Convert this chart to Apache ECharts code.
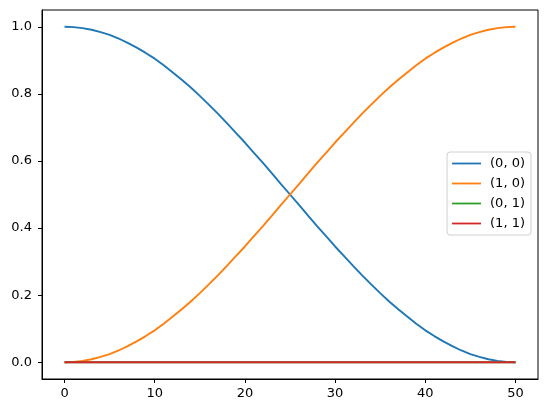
<!DOCTYPE html>
<html>
<head>
<meta charset="utf-8">
<script src="https://cdn.jsdelivr.net/npm/echarts@6/dist/echarts.min.js"></script>
<style>html,body{margin:0;padding:0;background:#fff}#c{width:547px;height:413px}</style>
</head>
<body>
<div id="c"></div>
<script>
const xValues = [0,1,2,3,4,5,6,7,8,9,10,11,12,13,14,15,16,17,18,19,20,21,22,23,24,25,26,27,28,29,30,31,32,33,34,35,36,37,38,39,40,41,42,43,44,45,46,47,48,49,50];
const s00 = [1.000,0.999,0.996,0.991,0.984,0.976,0.965,0.952,0.938,0.922,0.905,0.885,0.864,0.842,0.819,0.794,0.768,0.741,0.713,0.684,0.655,0.624,0.594,0.563,0.531,0.500,0.469,0.437,0.406,0.376,0.345,0.316,0.287,0.259,0.232,0.206,0.181,0.158,0.136,0.115,0.095,0.078,0.062,0.048,0.035,0.024,0.016,0.009,0.004,0.001,0.000];
const s10 = [0.000,0.001,0.004,0.009,0.016,0.024,0.035,0.048,0.062,0.078,0.095,0.115,0.136,0.158,0.181,0.206,0.232,0.259,0.287,0.316,0.345,0.376,0.406,0.437,0.469,0.500,0.531,0.563,0.594,0.624,0.655,0.684,0.713,0.741,0.768,0.794,0.819,0.842,0.864,0.885,0.905,0.922,0.938,0.952,0.965,0.976,0.984,0.991,0.996,0.999,1.000];
const s01 = [0,0,0,0,0,0,0,0,0,0,0,0,0,0,0,0,0,0,0,0,0,0,0,0,0,0,0,0,0,0,0,0,0,0,0,0,0,0,0,0,0,0,0,0,0,0,0,0,0,0,0];
const s11 = [0,0,0,0,0,0,0,0,0,0,0,0,0,0,0,0,0,0,0,0,0,0,0,0,0,0,0,0,0,0,0,0,0,0,0,0,0,0,0,0,0,0,0,0,0,0,0,0,0,0,0];
const seriesNames = ['(0, 0)', '(1, 0)', '(0, 1)', '(1, 1)'];
const xTicks = [0, 10, 20, 30, 40, 50];
const yTicks = [0.0, 0.2, 0.4, 0.6, 0.8, 1.0];

const colors = ['#1f77b4', '#ff7f0e', '#2ca02c', '#d62728'];
const allData = [s00, s10, s01, s11];
const font = 'DejaVu Sans';

const chart = echarts.init(document.getElementById('c'), null, {renderer: 'canvas'});
chart.setOption({
  animation: false,
  backgroundColor: '#fff',
  grid: {left: 42, top: 10, width: 496, height: 369, show: true, borderColor: '#000', borderWidth: 1, containLabel: false},
  xAxis: {
    type: 'value', min: -2.5, max: 52.5,
    splitLine: {show: false},
    axisLine: {show: true, onZero: false, lineStyle: {color: '#000', width: 1}},
    axisTick: {show: true, length: 4, lineStyle: {color: '#000'}, customValues: xTicks},
    axisLabel: {customValues: xTicks, color: '#000', fontFamily: font, fontSize: 13, margin: 8, formatter: v => String(v)}
  },
  yAxis: {
    type: 'value', min: -0.05, max: 1.05,
    splitLine: {show: false},
    axisLine: {show: true, onZero: false, lineStyle: {color: '#000', width: 1}},
    axisTick: {show: true, length: 4, lineStyle: {color: '#000'}, customValues: yTicks},
    axisLabel: {customValues: yTicks, color: '#000', fontFamily: font, fontSize: 13, margin: 10, formatter: v => v.toFixed(1)}
  },
  legend: {
    orient: 'vertical', right: 16, top: 152,
    backgroundColor: '#fff', borderColor: '#d0d0d0', borderWidth: 1, borderRadius: 3,
    padding: [5, 6, 5, 5], itemGap: 7, itemWidth: 29, itemHeight: 13,
    textStyle: {color: '#000', fontFamily: font, fontSize: 13, padding: [0, 0, 0, 4]},
    data: seriesNames.map(n => ({name: n, icon: 'path://M0,5.6 L29,5.6 L29,7.4 L0,7.4 Z'}))
  },
  series: allData.map((d, i) => ({
    name: seriesNames[i], type: 'line', showSymbol: false, symbol: 'none',
    color: colors[i],
    lineStyle: {width: 1.9, color: colors[i]},
    data: xValues.map((x, j) => [x, d[j]])
  }))
});
</script>
</body>
</html>
